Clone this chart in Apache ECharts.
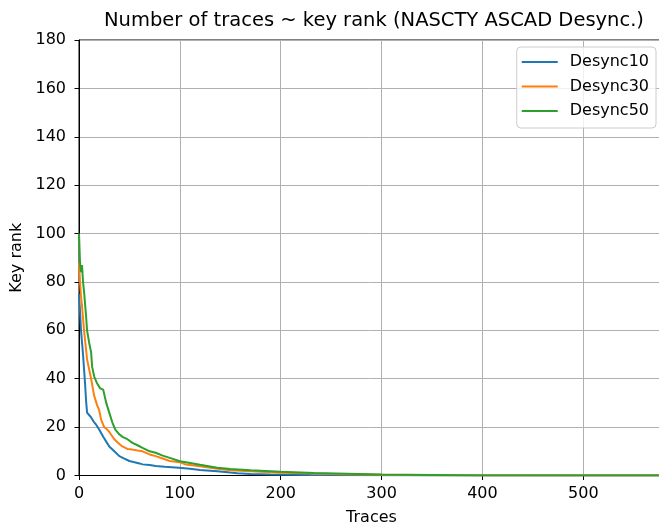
<!DOCTYPE html>
<html>
<head>
<meta charset="utf-8">
<script src="https://cdn.jsdelivr.net/npm/echarts@6/dist/echarts.min.js"></script>
<style>
html,body{margin:0;padding:0;background:#fff;}
#chart{width:659px;height:523px;}
</style>
</head>
<body>
<div id="chart"></div>
<script>
const seriesNames = ['Desync10', 'Desync30', 'Desync50'];
const traces10 = [0,1,2,3,4,5,6,7,8,10,12,15,17,20,24,27,30,35,40,45,50,55,60,63,70,76,85,99,110,120,137,150,157,170,190,230,300,400,580];
const rank10   = [75,68,60,55,50,44,38,31,26,25,24,22,21,19,16,14,12,10,8,7,6,5.5,5,4.6,4.3,3.9,3.6,3.2,2.8,2.3,1.8,1.2,0.9,0.6,0.4,0.2,0.1,0,0];
const traces30 = [0,1,2,3,5,6,8,10,12,15,18,20,22,25,28,30,35,40,43,48,53,58,63,70,76,83,90,100,106,120,137,150,170,200,233,260,300,350,580];
const rank30   = [88,80,74,70,60,56,48,44,40,33,29,27,23,20,19,18,15,13,12,11,10.7,10.3,10,8.7,8,7,6,5.5,4.5,3.8,2.8,2.2,1.8,1.1,0.8,0.5,0.3,0.1,0];
const traces50 = [0,1,2,3,4,5,7,8,10,12,13,15,18,21,24,27,30,33,36,40,43,48,53,58,63,70,76,83,90,100,106,120,137,150,170,200,233,266,300,350,400,580];
const rank50   = [100,88,84,87,80,76,66,60,55,51,45,41,38,36,35.5,30,26,22,19,17,16,15,13.5,12.5,11.4,10,9.4,8.2,7.3,5.9,5.5,4.4,3.2,2.7,2.2,1.5,1.0,0.7,0.4,0.2,0,0];
const xTicks = [0,100,200,300,400,500];
const yTicks = [0,20,40,60,80,100,120,140,160,180];

const colors = ['#1f77b4', '#ff7f0e', '#2ca02c'];
const FONT = 'DejaVu Sans';
function zip(a, b) { return a.map((v, i) => [v, b[i]]); }
const dataSets = [zip(traces10, rank10), zip(traces30, rank30), zip(traces50, rank50)];

const chart = echarts.init(document.getElementById('chart'), null, {renderer: 'canvas'});
chart.setOption({
  animation: false,
  backgroundColor: '#fff',
  color: colors,
  title: {
    text: 'Number of traces ~ key rank (NASCTY ASCAD Desync.)',
    left: 369, top: 6, textAlign: 'center',
    textStyle: {fontFamily: FONT, fontSize: 19.5, fontWeight: 'normal', color: '#000'}
  },
  grid: {left: 79, right: -5, top: 40, bottom: 47.5, show: true, borderColor: '#000', borderWidth: 1,
    containLabel: false, outerBoundsMode: 'none'},
  legend: {
    orient: 'vertical', right: 3, top: 47,
    data: seriesNames,
    icon: 'rect', itemWidth: 36, itemHeight: 2, itemGap: 8.5,
    padding: [7, 7, 9, 5],
    backgroundColor: 'rgba(255,255,255,0.8)', borderColor: '#cccccc', borderWidth: 1, borderRadius: 4,
    textStyle: {fontFamily: FONT, fontSize: 16, lineHeight: 16, color: '#000', padding: [0, 0, 0, 7]}
  },
  xAxis: {
    type: 'value', min: 0, max: 580, interval: 100,
    name: 'Traces', nameLocation: 'middle', nameGap: 34,
    nameTextStyle: {fontFamily: FONT, fontSize: 16, color: '#000'},
    axisLine: {show: true, onZero: false, lineStyle: {color: '#000', width: 1}},
    axisTick: {show: true, length: 4.5, lineStyle: {color: '#000'}},
    axisLabel: {fontFamily: FONT, fontSize: 16, color: '#000', margin: 10,
      formatter: v => xTicks.includes(v) ? String(v) : '', showMaxLabel: false},
    splitLine: {show: true, lineStyle: {color: '#b0b0b0', width: 1}}
  },
  yAxis: {
    type: 'value', min: 0, max: 180, interval: 20,
    name: 'Key rank', nameLocation: 'middle', nameGap: 47, nameRotate: 90,
    nameTextStyle: {fontFamily: FONT, fontSize: 16, color: '#000'},
    axisLine: {show: true, onZero: false, lineStyle: {color: '#000', width: 1}},
    axisTick: {show: true, length: 4.5, lineStyle: {color: '#000'}},
    axisLabel: {fontFamily: FONT, fontSize: 16, color: '#000', margin: 13,
      formatter: v => yTicks.includes(v) ? String(v) : ''},
    splitLine: {show: true, lineStyle: {color: '#b0b0b0', width: 1}}
  },
  series: seriesNames.map((n, i) => ({
    name: n, type: 'line', data: dataSets[i], symbol: 'none', showSymbol: false,
    lineStyle: {width: 2, color: colors[i]}, itemStyle: {color: colors[i]}, z: 2 + i
  }))
});
</script>
</body>
</html>
